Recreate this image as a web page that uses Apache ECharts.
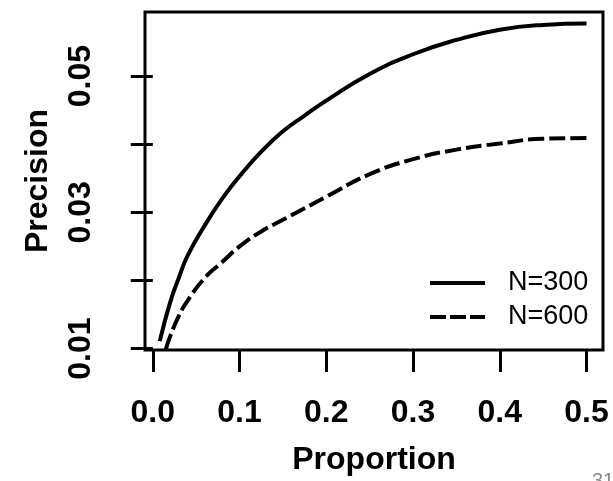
<!DOCTYPE html>
<html>
<head>
<meta charset="utf-8">
<script src="https://cdn.jsdelivr.net/npm/echarts@6/dist/echarts.min.js"></script>
<style>
  html, body { margin: 0; padding: 0; background: #fff; }
  #chart { width: 613px; height: 481px; }
</style>
</head>
<body>
<div id="chart"></div>
<script>
// proportion values (x) and precision for the two sample sizes
var propN300 = [0.008, 0.02, 0.03, 0.04, 0.06, 0.08, 0.10, 0.125, 0.15, 0.175, 0.20, 0.25, 0.30, 0.35, 0.40, 0.45, 0.50]
var precN300 = [0.0111, 0.0168, 0.0204, 0.0236, 0.0281, 0.0320, 0.0353, 0.0389, 0.0419, 0.0442, 0.0464, 0.0503, 0.0532, 0.0553, 0.0568, 0.0575, 0.0577]
var propN600 = [0.015, 0.02, 0.03, 0.04, 0.06, 0.08, 0.10, 0.125, 0.15, 0.175, 0.20, 0.25, 0.30, 0.35, 0.40, 0.45, 0.50]
var precN600 = [0.0099, 0.0118, 0.0148, 0.0170, 0.0204, 0.0227, 0.0250, 0.0272, 0.0289, 0.0306, 0.0323, 0.0356, 0.0378, 0.0392, 0.0401, 0.0408, 0.0409]
var xTicks = [0, 0.1, 0.2, 0.3, 0.4, 0.5]
var yTicks = [0.01, 0.02, 0.03, 0.04, 0.05]
var yLabelTicks = [0.01, 0.03, 0.05]
var seriesNames = ['N=300', 'N=600']

function pairs(xs, ys) {
  return xs.map(function (x, i) { return [x, ys[i]] })
}

var chart = echarts.init(document.getElementById('chart'))
var font = '"Liberation Sans", Arial, sans-serif'

var option = {
  animation: false,
  backgroundColor: '#fff',
  grid: {
    show: true,
    left: 145,
    right: 10,
    top: 12,
    bottom: 130,
    borderColor: '#000',
    borderWidth: 3,
    backgroundColor: '#fff'
  },
  legend: {
    orient: 'vertical',
    left: 430,
    top: 269,
    padding: 0,
    itemWidth: 55,
    itemHeight: 4,
    itemGap: 6,
    textStyle: {
      color: '#000',
      fontFamily: font,
      fontSize: 27,
      lineHeight: 28,
      padding: [0, 0, 0, 18]
    },
    data: [
      { name: seriesNames[0], icon: 'path://M0,0h55v4h-55z' },
      { name: seriesNames[1], icon: 'path://M0,0h16v4h-16z M20,0h16v4h-16z M40,0h15v4h-15z' }
    ]
  },
  xAxis: {
    type: 'value',
    min: -0.009,
    max: 0.519,
    name: 'Proportion',
    nameLocation: 'middle',
    nameGap: 94,
    nameTextStyle: { color: '#000', fontFamily: font, fontSize: 32, fontWeight: 'bold' },
    axisLine: { show: false },
    splitLine: { show: false },
    axisTick: {
      show: true,
      length: 22,
      customValues: xTicks,
      lineStyle: { color: '#000', width: 3 }
    },
    axisLabel: {
      customValues: xTicks,
      margin: 47,
      color: '#000',
      fontFamily: font,
      fontSize: 32,
      fontWeight: 'bold',
      formatter: function (v) { return v.toFixed(1) }
    }
  },
  yAxis: {
    type: 'value',
    min: 0.0098,
    max: 0.0594,
    name: 'Precision',
    nameLocation: 'middle',
    nameGap: 91,
    nameRotate: 90,
    nameTextStyle: { color: '#000', fontFamily: font, fontSize: 32, fontWeight: 'bold' },
    axisLine: { show: false },
    splitLine: { show: false },
    axisTick: {
      show: true,
      length: 22,
      customValues: yTicks,
      lineStyle: { color: '#000', width: 3 }
    },
    axisLabel: {
      customValues: yLabelTicks,
      rotate: 90,
      margin: 48,
      color: '#000',
      fontFamily: font,
      fontSize: 32,
      fontWeight: 'bold',
      formatter: function (v) { return v.toFixed(2) }
    }
  },
  graphic: [{
    type: 'text',
    left: 592,
    top: 471,
    style: { text: '31', fill: '#8a8a8a', font: '20px ' + font }
  }],
  series: [
    {
      name: seriesNames[0],
      type: 'line',
      smooth: true,
      symbol: 'none',
      lineStyle: { color: '#000', width: 4, type: 'solid' },
      itemStyle: { color: '#000' },
      data: pairs(propN300, precN300)
    },
    {
      name: seriesNames[1],
      type: 'line',
      smooth: true,
      symbol: 'none',
      lineStyle: { color: '#000', width: 4, type: [16, 5] },
      itemStyle: { color: '#000' },
      data: pairs(propN600, precN600)
    }
  ]
}
chart.setOption(option)
</script>
</body>
</html>
